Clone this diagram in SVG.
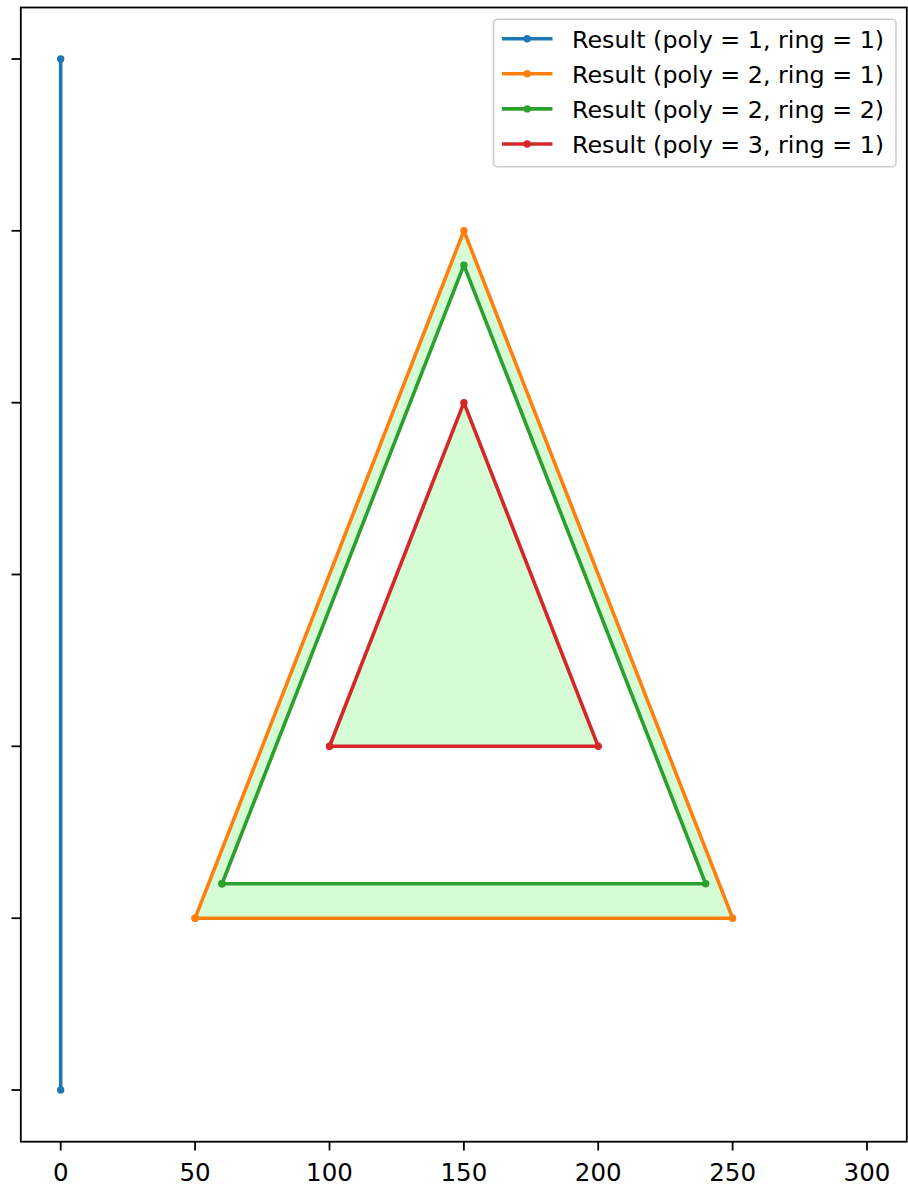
<svg xmlns="http://www.w3.org/2000/svg" width="908" height="1190" viewBox="0 0 908 1190">
<style>
.spine{fill:none;stroke:#000;stroke-width:1.8}
.tick{stroke:#000;stroke-width:1.8}
.tl{font-family:"DejaVu Sans",sans-serif;font-size:24.5px;fill:#000;text-anchor:middle}
.lg{font-family:"DejaVu Sans",sans-serif;font-size:23.8px;fill:#000}
.ln{fill:none;stroke-width:3.6;stroke-linejoin:round;stroke-linecap:square}
.ll{stroke-width:3.6}
</style>
<defs>
<marker id="mb" viewBox="-4 -4 8 8" markerWidth="8" markerHeight="8" markerUnits="userSpaceOnUse"><circle r="3.7" fill="#1f77b4"/></marker>
<marker id="mo" viewBox="-4 -4 8 8" markerWidth="8" markerHeight="8" markerUnits="userSpaceOnUse"><circle r="3.7" fill="#ff7f0e"/></marker>
<marker id="mg" viewBox="-4 -4 8 8" markerWidth="8" markerHeight="8" markerUnits="userSpaceOnUse"><circle r="3.7" fill="#2ca02c"/></marker>
<marker id="mr" viewBox="-4 -4 8 8" markerWidth="8" markerHeight="8" markerUnits="userSpaceOnUse"><circle r="3.7" fill="#d62728"/></marker>
</defs>
<rect width="908" height="1190" fill="#fff"/>
<g id="fill">
<path d="M195.1,918.2 L732.6,918.2 L463.9,230.8 Z M222,883.8 L705.7,883.8 L463.9,265.2 Z M329.5,746.3 L598.2,746.3 L463.9,402.7 Z" fill="#d6fcd6" fill-rule="evenodd"/>
</g>
<g id="connectors">
<polyline id="poly1" class="ln" stroke="#1f77b4" points="60.7,1090 60.7,59" marker-start="url(#mb)" marker-mid="url(#mb)" marker-end="url(#mb)"/>
<polyline id="poly2ring1" class="ln" stroke="#ff7f0e" points="195.1,918.2 732.6,918.2 463.9,230.8 195.1,918.2" marker-start="url(#mo)" marker-mid="url(#mo)" marker-end="url(#mo)"/>
<polyline id="poly2ring2" class="ln" stroke="#2ca02c" points="222,883.8 705.7,883.8 463.9,265.2 222,883.8" marker-start="url(#mg)" marker-mid="url(#mg)" marker-end="url(#mg)"/>
<polyline id="poly3" class="ln" stroke="#d62728" points="329.5,746.3 598.2,746.3 463.9,402.7 329.5,746.3" marker-start="url(#mr)" marker-mid="url(#mr)" marker-end="url(#mr)"/>
</g>
<g id="axes">
<rect class="spine" x="20.8" y="7.5" width="886" height="1134.2"/>
<g id="yticks">
<line class="tick" x1="11.5" y1="59" x2="20.8" y2="59"/>
<line class="tick" x1="11.5" y1="230.8" x2="20.8" y2="230.8"/>
<line class="tick" x1="11.5" y1="402.7" x2="20.8" y2="402.7"/>
<line class="tick" x1="11.5" y1="574.5" x2="20.8" y2="574.5"/>
<line class="tick" x1="11.5" y1="746.3" x2="20.8" y2="746.3"/>
<line class="tick" x1="11.5" y1="918.2" x2="20.8" y2="918.2"/>
<line class="tick" x1="11.5" y1="1090" x2="20.8" y2="1090"/>
</g>
<g id="xticks">
<line class="tick" x1="60.7" y1="1141.7" x2="60.7" y2="1150.5"/>
<line class="tick" x1="195.1" y1="1141.7" x2="195.1" y2="1150.5"/>
<line class="tick" x1="329.5" y1="1141.7" x2="329.5" y2="1150.5"/>
<line class="tick" x1="463.9" y1="1141.7" x2="463.9" y2="1150.5"/>
<line class="tick" x1="598.2" y1="1141.7" x2="598.2" y2="1150.5"/>
<line class="tick" x1="732.6" y1="1141.7" x2="732.6" y2="1150.5"/>
<line class="tick" x1="867" y1="1141.7" x2="867" y2="1150.5"/>
<text class="tl" x="60.7" y="1180.5">0</text>
<text class="tl" x="195.1" y="1180.5">50</text>
<text class="tl" x="329.5" y="1180.5">100</text>
<text class="tl" x="463.9" y="1180.5">150</text>
<text class="tl" x="598.2" y="1180.5">200</text>
<text class="tl" x="732.6" y="1180.5">250</text>
<text class="tl" x="867" y="1180.5">300</text>
</g>
</g>
<g id="legend">
<rect x="493.5" y="19.3" width="402.5" height="147.4" rx="4" fill="#fff" fill-opacity="0.8" stroke="#cccccc" stroke-width="1.6"/>
<line class="ll" x1="502" y1="38.7" x2="552.5" y2="38.7" stroke="#1f77b4"/>
<circle cx="527.2" cy="38.7" r="3.7" fill="#1f77b4"/>
<text class="lg" x="572" y="47.5">Result (poly = 1, ring = 1)</text>
<line class="ll" x1="502" y1="73.8" x2="552.5" y2="73.8" stroke="#ff7f0e"/>
<circle cx="527.2" cy="73.8" r="3.7" fill="#ff7f0e"/>
<text class="lg" x="572" y="82.6">Result (poly = 2, ring = 1)</text>
<line class="ll" x1="502" y1="108.9" x2="552.5" y2="108.9" stroke="#2ca02c"/>
<circle cx="527.2" cy="108.9" r="3.7" fill="#2ca02c"/>
<text class="lg" x="572" y="117.7">Result (poly = 2, ring = 2)</text>
<line class="ll" x1="502" y1="144" x2="552.5" y2="144" stroke="#d62728"/>
<circle cx="527.2" cy="144" r="3.7" fill="#d62728"/>
<text class="lg" x="572" y="152.8">Result (poly = 3, ring = 1)</text>
</g>
</svg>
